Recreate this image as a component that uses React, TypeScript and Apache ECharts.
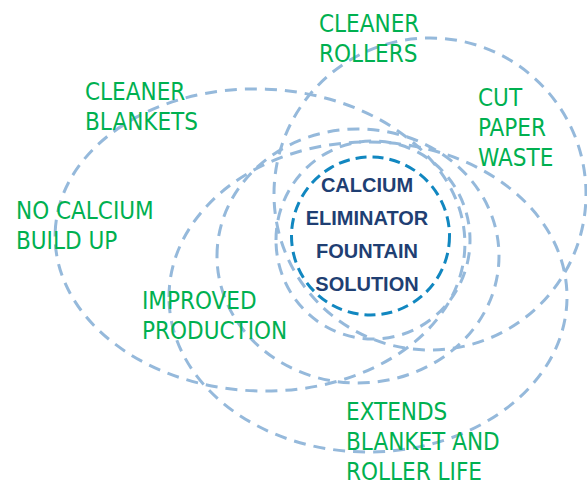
import React, { useEffect, useRef } from "react";
import * as echarts from "echarts";

// ---- content (text only) ----
const centerLines: string[] = ["CALCIUM", "ELIMINATOR", "FOUNTAIN", "SOLUTION"];
const benefitRollers: string[] = ["CLEANER", "ROLLERS"];
const benefitBlankets: string[] = ["CLEANER", "BLANKETS"];
const benefitPaper: string[] = ["CUT", "PAPER", "WASTE"];
const benefitCalcium: string[] = ["NO CALCIUM", "BUILD UP"];
const benefitProduction: string[] = ["IMPROVED", "PRODUCTION"];
const benefitLife: string[] = ["EXTENDS", "BLANKET AND", "ROLLER LIFE"];

// ---- layout / styles ----
const GREEN = "#00b050";
const NAVY = "#1f3f73";
const LIGHT = "#95b9db";
const TEAL = "#1187c0";
const LABEL_FONT = "'Liberation Sans Narrow', 'DejaVu Sans Condensed', 'Arial Narrow', sans-serif";

type Oval = { cx: number; cy: number; rx: number; ry: number; rot: number };
const ovals: Oval[] = [
  { cx: 260, cy: 240, rx: 205, ry: 151, rot: -0.04 },
  { cx: 430, cy: 194, rx: 156, ry: 156, rot: 0 },
  { cx: 368, cy: 297, rx: 199, ry: 155, rot: 0 },
  { cx: 358, cy: 256, rx: 141, ry: 127, rot: 0 },
  { cx: 373, cy: 240, rx: 97, ry: 99, rot: 0 },
];

const labelBlocks: { lines: string[]; x: number; y: number }[] = [
  { lines: benefitRollers, x: 319, y: 24 },
  { lines: benefitBlankets, x: 85, y: 92 },
  { lines: benefitPaper, x: 478, y: 98 },
  { lines: benefitCalcium, x: 16, y: 211 },
  { lines: benefitProduction, x: 142, y: 301 },
  { lines: benefitLife, x: 346, y: 412 },
];

export default function App() {
  const ref = useRef<HTMLDivElement>(null);
  useEffect(() => {
    if (!ref.current) return;
    const chart = echarts.init(ref.current, null, { renderer: "svg" });
    const elements: any[] = [];
    ovals.forEach((o) => {
      elements.push({
        type: "ellipse",
        x: o.cx,
        y: o.cy,
        rotation: o.rot,
        shape: { cx: 0, cy: 0, rx: o.rx, ry: o.ry },
        style: { fill: "none", stroke: LIGHT, lineWidth: 3, lineDash: [12, 8] },
        silent: true,
      });
    });
    elements.push({
      type: "circle",
      shape: { cx: 370.5, cy: 236, r: 79 },
      style: { fill: "none", stroke: TEAL, lineWidth: 3, lineDash: [11, 6] },
      silent: true,
    });
    centerLines.forEach((t, i) => {
      elements.push({
        type: "text",
        x: 367,
        y: 185 + i * 33,
        style: {
          text: t,
          fill: NAVY,
          fontSize: 20,
          fontWeight: "bold",
          fontFamily: "'Liberation Sans', Arial, sans-serif",
          align: "center",
          verticalAlign: "middle",
        },
        silent: true,
      });
    });
    labelBlocks.forEach((b) => {
      b.lines.forEach((t, i) => {
        elements.push({
          type: "text",
          x: b.x,
          y: b.y + i * 30,
          style: {
            text: t,
            fill: GREEN,
            fontSize: 24,
            fontFamily: LABEL_FONT,
            align: "left",
            verticalAlign: "middle",
          },
          silent: true,
        });
      });
    });
    chart.setOption({ animation: false, graphic: { elements } });
    return () => chart.dispose();
  }, []);
  return (
    <div
      ref={ref}
      style={{ position: "absolute", left: 0, top: 0, width: 587, height: 485, background: "#fff" }}
    />
  );
}
